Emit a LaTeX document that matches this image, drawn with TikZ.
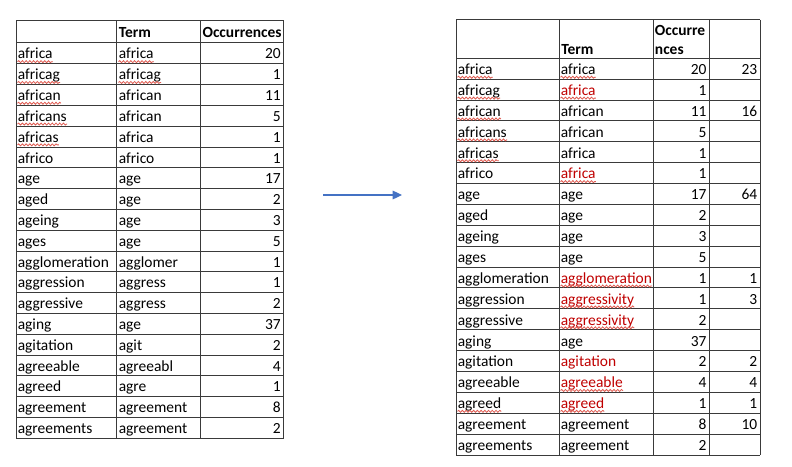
\documentclass[tikz,border=0pt]{standalone}
\usepackage{fontspec}
\setmainfont{Carlito}
\usetikzlibrary{decorations.pathmorphing,arrows.meta}
\definecolor{xlred}{HTML}{C00000}
\definecolor{sqred}{HTML}{E05A50}
\definecolor{arrowblue}{HTML}{4472C4}
\definecolor{gridc}{HTML}{3A3A3A}
\begin{document}
\begin{tikzpicture}[x=0.75pt,y=-0.75pt,
  grid/.style={draw=gridc,line width=0.75pt},
  cell/.style={anchor=base west,inner sep=0pt,font=\fontsize{11.6}{13}\selectfont},
  num/.style={anchor=base east,inner sep=0pt,font=\fontsize{11.6}{13}\selectfont},
  hdr/.style={cell,font=\fontsize{11.6}{13}\selectfont\bfseries},
  squig/.style={draw=sqred,line width=0.6pt,decorate,decoration={snake,amplitude=0.75pt,segment length=2.8pt}},
  flow/.style={draw=arrowblue,line width=0.9pt,-{Triangle[length=7pt,width=6.5pt]}}]
\fill[white] (0,0) rectangle (792,467);
\useasboundingbox (0,0) rectangle (792,467);
% ---------- left table grid ----------
\foreach \x in {16,116.5,200.5,283.5} \draw[grid] (\x,21) -- (\x,438.2);
\draw[grid] (16,21) -- (283.5,21);
\foreach \i in {0,...,19} \draw[grid] (16,{43+20.8*\i}) -- (283.5,{43+20.8*\i});
\node[hdr] (L-h-term) at (118.5,37.5) {Term};
\node[hdr] (L-h-occ) at (202.3,37.5) {Occurrences};
\foreach [count=\i] \a/\b/\n/\s in {africa/africa/20/3, africag/africag/1/3, african/african/11/1, africans/african/5/1, africas/africa/1/1, africo/africo/1/0, age/age/17/0, aged/age/2/0, ageing/age/3/0, ages/age/5/0, agglomeration/agglomer/1/0, aggression/aggress/1/0, aggressive/aggress/2/0, aging/age/37/0, agitation/agit/2/0, agreeable/agreeabl/4/0, agreed/agre/1/0, agreement/agreement/8/0, agreements/agreement/2/0}{
  \pgfmathsetmacro\yb{43+20.8*\i-4.8}
  \node[cell] (L\i-a) at (17.5,\yb) {\a};
  \node[cell] (L\i-b) at (118.5,\yb) {\b};
  \node[num] (L\i-c) at (281,\yb) {\n};
  \ifodd\s \draw[squig] ([yshift=-2pt]L\i-a.base west) -- ([yshift=-2pt]L\i-a.base east);\fi
  \ifnum\s>1 \draw[squig] ([yshift=-2pt]L\i-b.base west) -- ([yshift=-2pt]L\i-b.base east);\fi
}
% ---------- arrow ----------
\coordinate (arrA) at (323,195);
\coordinate (arrB) at (402,195);
\draw[flow] (arrA) -- (arrB);
% ---------- right table grid ----------
\foreach \x in {456,559,653,709,760} \draw[grid] (\x,20) -- (\x,455);
\draw[grid] (456,20) -- (760,20);
\foreach \i in {0,...,19} \draw[grid] (456,{58.3+20.88*\i}) -- (760,{58.3+20.88*\i});
\node[hdr] (R-h-term) at (561,54.3) {Term};
\node[hdr] (R-h-occ1) at (654.7,35.7) {Occurre};
\node[hdr] (R-h-occ2) at (654.7,54.3) {nces};
\foreach [count=\i] \a/\b/\r/\n/\e/\s in {africa/africa/0/20/23/3, africag/africa/1/1//3, african/african/0/11/16/1, africans/african/0/5//1, africas/africa/0/1//1, africo/africa/1/1//2, age/age/0/17/64/0, aged/age/0/2//0, ageing/age/0/3//0, ages/age/0/5//0, agglomeration/agglomeration/1/1/1/2, aggression/aggressivity/1/1/3/2, aggressive/aggressivity/1/2//2, aging/age/0/37//0, agitation/agitation/1/2/2/0, agreeable/agreeable/1/4/4/2, agreed/agreed/1/1/1/3, agreement/agreement/0/8/10/0, agreements/agreement/0/2//0}{
  \pgfmathsetmacro\yb{58.3+20.88*\i-4.6}
  \def\tc{black}\ifnum\r=1 \def\tc{xlred}\fi
  \node[cell] (R\i-a) at (457.5,\yb) {\a};
  \node[cell,text=\tc] (R\i-b) at (560.5,\yb) {\b};
  \node[num] (R\i-c) at (706.7,\yb) {\n};
  \node[num] (R\i-d) at (757.5,\yb) {\e};
  \ifodd\s \draw[squig] ([yshift=-2pt]R\i-a.base west) -- ([yshift=-2pt]R\i-a.base east);\fi
  \ifnum\s>1 \draw[squig] ([yshift=-2pt]R\i-b.base west) -- ([yshift=-2pt]R\i-b.base east);\fi
}
\end{tikzpicture}
\end{document}
